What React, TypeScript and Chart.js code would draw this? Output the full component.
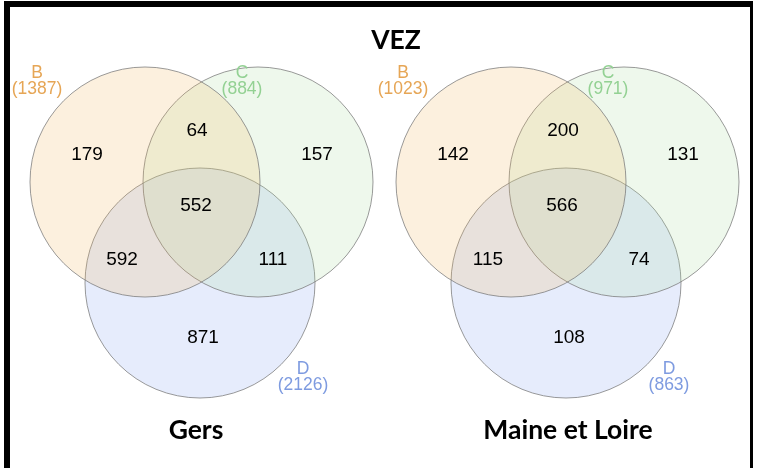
import React, { useEffect, useRef } from 'react';
import { Chart, registerables } from 'chart.js';

Chart.register(...registerables);

// ---------- data ----------
const chartTitle = 'VEZ';
const groups = ['Gers', 'Maine et Loire'];
const setNames = ['B', 'C', 'D'];
const totalsB = [1387, 1023];
const totalsC = [884, 971];
const totalsD = [2126, 863];
const onlyB = [179, 142];
const onlyC = [157, 131];
const onlyD = [871, 108];
const onlyBC = [64, 200];
const onlyBD = [592, 115];
const onlyCD = [111, 74];
const allBCD = [552, 566];

// ---------- layout (pixel-space scale units) ----------
const W = 760;
const H = 468;
const groupX = [145, 511];
const groupY = 182;
const RADIUS = 115;
const circleOffsets = [
  [0, 0],
  [113, 0],
  [55, 101],
];
const regionOffsets: [number[], number, number][] = [
  [onlyB, -58, -27],
  [onlyBC, 52, -51],
  [onlyC, 172, -27],
  [allBCD, 51, 24],
  [onlyBD, -23, 78],
  [onlyCD, 128, 78],
  [onlyD, 58, 156],
];
const setLabelOffsets = [
  [-108, -104],
  [97, -104],
  [158, 192],
];
const groupTitleX = [196, 568];
const groupTitleY = 439;
const titleX = 396;
const titleY = 49;

const fillColors = ['rgba(240,180,90,0.2)', 'rgba(170,220,160,0.2)', 'rgba(130,160,240,0.2)'];
const labelColors = ['#E6A656', '#93D193', '#7E9BE0'];
const strokeColor = 'rgba(120,120,120,0.75)';
const totals = [totalsB, totalsC, totalsD];

const overlayPlugin = {
  id: 'vennOverlay',
  afterDatasetsDraw(chart: any) {
    const ctx = chart.ctx as CanvasRenderingContext2D;
    const xs = chart.scales.x;
    const ys = chart.scales.y;
    const px = (v: number) => xs.getPixelForValue(v);
    const py = (v: number) => ys.getPixelForValue(v);
    ctx.save();
    // region counts
    ctx.fillStyle = '#000';
    ctx.font = '19px "Liberation Sans", Arial, sans-serif';
    ctx.textAlign = 'center';
    ctx.textBaseline = 'middle';
    groups.forEach((_, gi) => {
      regionOffsets.forEach(([arr, dx, dy]) => {
        ctx.fillText(String(arr[gi]), px(groupX[gi] + dx), py(groupY + dy));
      });
    });
    // set labels
    ctx.font = '17.5px "Liberation Sans", Arial, sans-serif';
    ctx.textBaseline = 'alphabetic';
    groups.forEach((_, gi) => {
      setNames.forEach((name, si) => {
        const [dx, dy] = setLabelOffsets[si];
        const x = px(groupX[gi] + dx);
        const y = py(groupY + dy);
        ctx.fillStyle = labelColors[si];
        ctx.fillText(name, x, y);
        ctx.fillText('(' + totals[si][gi] + ')', x, y + 16);
      });
    });
    // titles
    ctx.fillStyle = '#000';
    ctx.font = 'bold 26.5px Lato, "Open Sans", sans-serif';
    ctx.fillText(chartTitle, px(titleX), py(titleY));
    groups.forEach((g, gi) => {
      ctx.fillText(g, px(groupTitleX[gi]), py(groupTitleY));
    });
    // frame
    ctx.fillStyle = '#000';
    ctx.fillRect(4, 1, 749, 6);
    ctx.fillRect(4, 1, 6, H);
    ctx.fillRect(750, 1, 3, H);
    ctx.restore();
  },
};

export default function App() {
  const ref = useRef<HTMLCanvasElement>(null);
  useEffect(() => {
    if (!ref.current) return;
    const datasets = setNames.map((name, si) => ({
      label: name,
      data: groups.map((_, gi) => ({
        x: groupX[gi] + circleOffsets[si][0],
        y: groupY + circleOffsets[si][1],
        r: RADIUS,
      })),
      backgroundColor: fillColors[si],
      borderColor: strokeColor,
      borderWidth: 1,
      hoverRadius: 0,
      clip: false as any,
    }));
    const chart = new Chart(ref.current, {
      type: 'bubble',
      data: { datasets },
      options: {
        animation: false,
        responsive: false,
        devicePixelRatio: 1,
        layout: { padding: 0, autoPadding: false },
        events: [],
        scales: {
          x: { type: 'linear', min: 0, max: W, display: false },
          y: { type: 'linear', min: 0, max: H, reverse: true, display: false },
        },
        plugins: {
          legend: { display: false },
          tooltip: { enabled: false },
        },
      },
      plugins: [overlayPlugin],
    });
    return () => chart.destroy();
  }, []);
  return (
    <div style={{ position: 'fixed', left: 0, top: 0, width: W, height: H, background: '#fff' }}>
      <canvas ref={ref} width={W} height={H} style={{ display: 'block' }} />
    </div>
  );
}
